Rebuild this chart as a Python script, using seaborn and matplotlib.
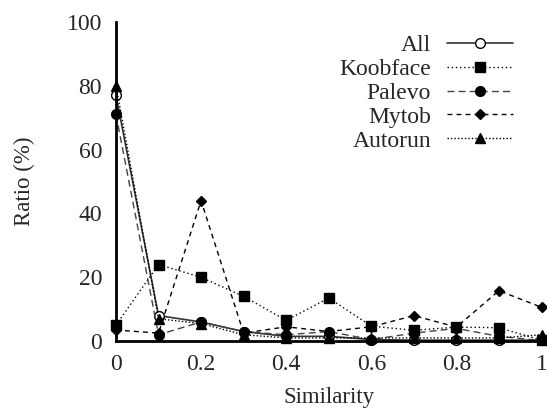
import matplotlib
matplotlib.use("Agg")
import matplotlib.pyplot as plt
import pandas as pd
import seaborn as sns

# Data
similarity = [0.0, 0.1, 0.2, 0.3, 0.4, 0.5, 0.6, 0.7, 0.8, 0.9, 1.0]
all_ratio = [77, 8, 6, 3, 1.5, 1.5, 0.5, 0.3, 0.3, 0.3, 0.3]
koobface = [5, 24, 20, 14, 6.5, 13.5, 4.7, 3.4, 4.4, 4.2, 0.3]
palevo = [71, 2, 6, 3, 2, 3, 0.5, 2.5, 4, 1.5, 0.2]
mytob = [3.5, 2.5, 44, 2.5, 4.5, 3, 4.5, 8, 4.4, 15.8, 10.6]
autorun = [80, 7, 5.5, 2, 1, 1, 1, 1, 1, 1, 2]

series = ["All", "Koobface", "Palevo", "Mytob", "Autorun"]
values = [all_ratio, koobface, palevo, mytob, autorun]

sns.set_style("white")
plt.rcParams['font.family'] = ['Liberation Serif', 'DejaVu Serif']

df = pd.DataFrame({"Similarity": similarity})
for name, vals in zip(series, values):
    df[name] = vals

styles = {
    "All": dict(marker='o', linestyle='-', mfc='white', ms=7, color='#333333', lw=1.2),
    "Koobface": dict(marker='s', linestyle=(0, (1, 2)), mfc='black', ms=7, color='black', lw=1),
    "Palevo": dict(marker='o', linestyle=(0, (5, 3)), mfc='black', ms=7, color='#444444', lw=1),
    "Mytob": dict(marker='D', linestyle=(0, (3.5, 3)), mfc='black', ms=5, color='black', lw=1),
    "Autorun": dict(marker='^', linestyle=(0, (1, 1.5)), mfc='black', ms=6.5, color='black', lw=1),
}

fig, ax = plt.subplots(figsize=(5.47, 4.12), dpi=100)
for name in series:
    st = styles[name]
    sns.lineplot(data=df, x="Similarity", y=name, ax=ax, label=name,
                 marker=st['marker'], linestyle=st['linestyle'], color=st['color'],
                 linewidth=st['lw'], markersize=st['ms'], markerfacecolor=st['mfc'],
                 markeredgecolor='black', markeredgewidth=1, clip_on=False)

ax.set_xlim(0, 1)
ax.set_ylim(0, 100)
ax.set_xticks([0, 0.2, 0.4, 0.6, 0.8, 1])
ax.set_xticklabels(["0", "0.2", "0.4", "0.6", "0.8", "1"])
ax.set_yticks([0, 20, 40, 60, 80, 100])
ax.tick_params(axis='both', length=0, labelsize=17)
ax.tick_params(axis='y', pad=10)
ax.tick_params(axis='x', pad=9)
ax.set_xlabel("Similarity", fontsize=16.5, labelpad=9)
ax.set_ylabel("Ratio (%)", fontsize=16.5, labelpad=23)
sns.despine(ax=ax)
for sp in ['left', 'bottom']:
    ax.spines[sp].set_linewidth(2)
    ax.spines[sp].set_color('black')

ax.legend(loc='upper right', bbox_to_anchor=(0.972, 1.012), frameon=False, markerfirst=False,
          fontsize=17, handlelength=2.8, labelspacing=0.1, handletextpad=0.68,
          borderpad=0.2)

fig.subplots_adjust(left=0.212, right=0.99, top=0.947, bottom=0.172)
fig.savefig("out.png", dpi=100)
